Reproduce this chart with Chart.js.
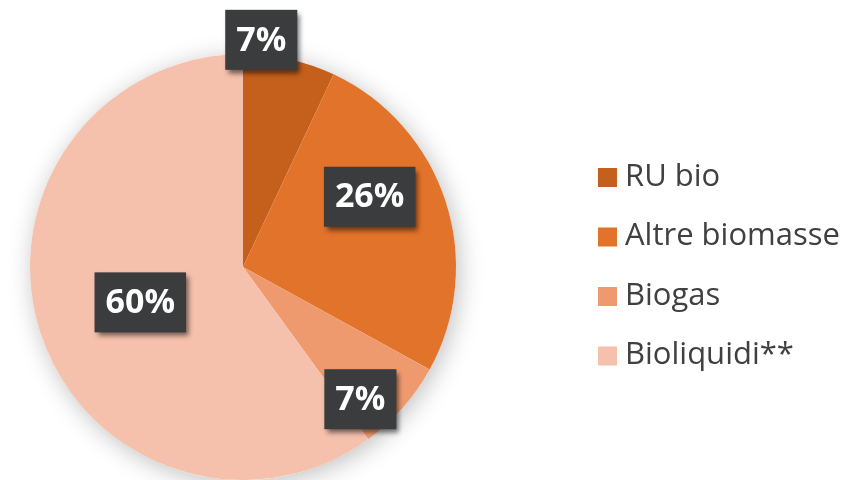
<!DOCTYPE html>
<html>
<head>
<meta charset="utf-8">
<script src="https://cdn.jsdelivr.net/npm/chart.js@4"></script>
<style>
  html, body { margin: 0; padding: 0; background: #ffffff; }
  #wrap { width: 848px; height: 480px; position: relative; }
</style>
</head>
<body>
<div id="wrap"><canvas id="grafico"></canvas></div>
<script>
// Dati del grafico
const categorie = ['RU bio', 'Altre biomasse', 'Biogas', 'Bioliquidi**'];
const valori = [7, 26, 7, 60];
const colori = ['#C5601C', '#E2732A', '#EF9A6E', '#F5C1AD'];

// posizione delle etichette: spostamento angolare (gradi) e fattore sul raggio
const spostamentoEtichette = [-8, -11, 7, -1];
const raggioEtichette = [1.07, 0.68, 0.83, 0.51];

// ombra morbida sotto la torta
const ombraTorta = {
    id: 'ombraTorta',
    beforeDatasetsDraw(chart) {
        const arc = chart.getDatasetMeta(0).data[0];
        if (!arc) return;
        const ctx = chart.ctx;
        ctx.save();
        ctx.shadowColor = 'rgba(0,0,0,0.25)';
        ctx.shadowBlur = 24;
        ctx.shadowOffsetX = 3;
        ctx.shadowOffsetY = 4;
        ctx.fillStyle = '#ffffff';
        ctx.beginPath();
        ctx.arc(arc.x, arc.y, arc.outerRadius, 0, Math.PI * 2);
        ctx.fill();
        ctx.restore();
    }
};

// etichette con riquadro scuro
const etichette = {
    id: 'etichette',
    afterDatasetsDraw(chart) {
        const ctx = chart.ctx;
        const meta = chart.getDatasetMeta(0);
        const totale = valori.reduce((a, b) => a + b, 0);
        meta.data.forEach((arc, i) => {
            const medio = (arc.startAngle + arc.endAngle) / 2 + spostamentoEtichette[i] * Math.PI / 180;
            const r = arc.outerRadius * raggioEtichette[i];
            const x = arc.x + Math.cos(medio) * r;
            const y = arc.y + Math.sin(medio) * r;
            const testo = Math.round(valori[i] / totale * 100) + '%';
            ctx.save();
            ctx.font = 'bold 34px "Open Sans"';
            const w = ctx.measureText(testo).width + 22;
            const h = 60;
            ctx.shadowColor = 'rgba(0,0,0,0.55)';
            ctx.shadowBlur = 5;
            ctx.shadowOffsetX = 3;
            ctx.shadowOffsetY = 4;
            ctx.fillStyle = '#3A3C3E';
            ctx.fillRect(x - w / 2, y - h / 2, w, h);
            ctx.shadowColor = 'transparent';
            ctx.fillStyle = '#ffffff';
            ctx.textAlign = 'center';
            ctx.textBaseline = 'middle';
            ctx.fillText(testo, x, y + 1);
            ctx.restore();
        });
    }
};

// legenda a destra
const legenda = {
    id: 'legenda',
    afterDraw(chart) {
        const ctx = chart.ctx;
        const x0 = 598;
        const y0 = 177;
        const passo = 59.5;
        ctx.save();
        ctx.font = '31px "Open Sans"';
        ctx.textBaseline = 'middle';
        categorie.forEach((nome, i) => {
            const y = y0 + i * passo;
            ctx.fillStyle = colori[i];
            ctx.fillRect(x0, y - 9, 19, 19);
            ctx.fillStyle = '#404040';
            ctx.fillText(nome, x0 + 27, y);
        });
        ctx.restore();
    }
};

document.addEventListener('DOMContentLoaded', function() {
    const ctx = document.getElementById('grafico').getContext('2d');
    new Chart(ctx, {
        type: 'pie',
        data: {
            labels: categorie,
            datasets: [{
                data: valori,
                backgroundColor: colori,
                borderWidth: 0
            }]
        },
        options: {
            responsive: true,
            maintainAspectRatio: false,
            animation: false,
            layout: {
                padding: { left: 30, top: 54, right: 392, bottom: 0 }
            },
            plugins: {
                legend: { display: false },
                tooltip: { enabled: false }
            }
        },
        plugins: [ombraTorta, etichette, legenda]
    });
});
</script>
</body>
</html>
